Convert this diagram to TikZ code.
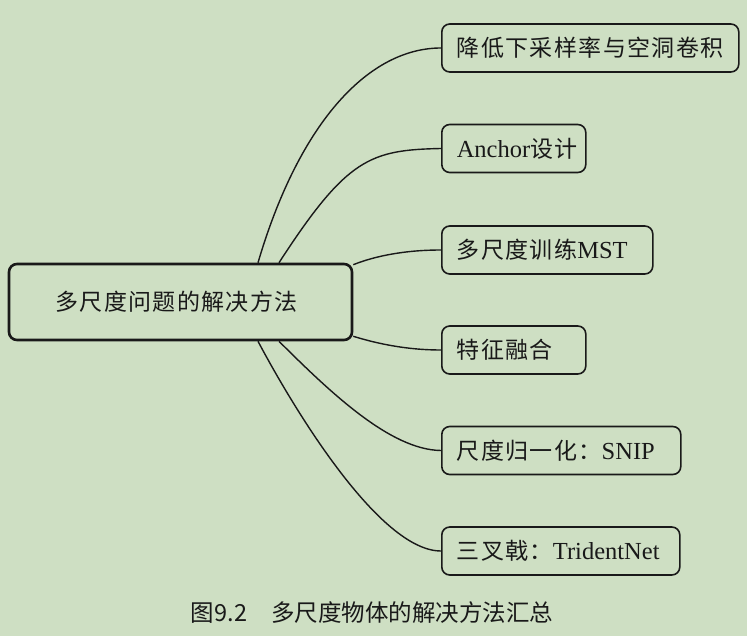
\documentclass[tikz,border=0pt]{standalone}
\usepackage{fontspec}
\setmainfont{Liberation Serif}
\newfontfamily\cjk[LetterSpace=6]{Noto Sans CJK SC}
\newfontfamily\capfont{Noto Sans CJK SC}
\definecolor{bg}{RGB}{206,223,195}
\definecolor{ink}{RGB}{25,25,25}
\begin{document}
\begin{tikzpicture}[x=1pt,y=-1pt,
  rootbox/.style={draw=ink, line width=2.6pt, rounded corners=8pt, minimum width=343pt, minimum height=76pt, inner sep=0pt, font=\fontsize{23}{28}\selectfont, text=ink},
  leafbox/.style={draw=ink, line width=1.6pt, rounded corners=8pt, minimum height=48pt, inner xsep=15pt, inner ysep=0pt, anchor=west, align=left, font=\fontsize{24.5}{28}\selectfont, text=ink},
  link/.style={line width=1.4pt, draw=ink},
  captext/.style={font=\capfont\fontsize{23.5}{26}\selectfont, text=ink}]
\useasboundingbox[fill=bg] (0,0) rectangle (747,636);

\node[rootbox] (root) at (180.5,302) {\hspace*{-8pt}\cjk 多尺度问题的解决方法};

\node[leafbox, text width=267pt] (n1) at (441,48) {{\cjk\fontsize{23}{28}\selectfont 降低下采样率与空洞卷积}};
\node[leafbox, text width=114pt] (n2) at (441,148.5) {Anchor{\cjk\fontsize{23}{28}\selectfont 设计}};
\node[leafbox, text width=181pt] (n3) at (441,250) {{\cjk\fontsize{23}{28}\selectfont 多尺度训练}MST};
\node[leafbox, text width=114pt] (n4) at (441,350) {{\cjk\fontsize{23}{28}\selectfont 特征融合}};
\node[leafbox, text width=209pt] (n5) at (441,450.5) {{\cjk\fontsize{23}{28}\selectfont 尺度归一化：}SNIP};
\node[leafbox, text width=208pt] (n6) at (441,551) {{\cjk\fontsize{23}{28}\selectfont 三叉戟：}TridentNet};

\draw[link] ([xshift=77.5pt]root.north) .. controls (300,120) and (370,48) .. (n1.west);
\draw[link] ([xshift=98.5pt]root.north) .. controls (347,158) and (370,150) .. (n2.west);
\draw[link] ([yshift=-2pt]root.north east) .. controls (375,256) and (405,250) .. (n3.west);
\draw[link] ([yshift=5pt]root.south east) .. controls (375,343) and (405,350) .. (n4.west);
\draw[link] ([xshift=98.5pt]root.south) .. controls (329,391) and (390,450) .. (n5.west);
\draw[link] ([xshift=77.5pt]root.south) .. controls (295,411) and (380,551) .. (n6.west);

\node[captext] (cap) at (372,613) {图9.2\hspace{24pt}多尺度物体的解决方法汇总};
\end{tikzpicture}
\end{document}
